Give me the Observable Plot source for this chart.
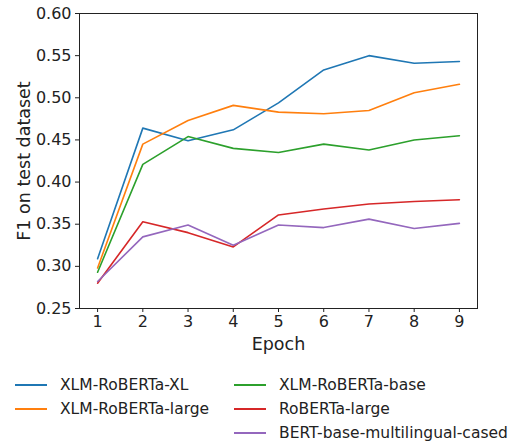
<!DOCTYPE html>
<html>
<head>
<meta charset="utf-8">
<script src="https://cdn.jsdelivr.net/npm/d3@7"></script>
<script src="https://cdn.jsdelivr.net/npm/@observablehq/plot@0.6"></script>
<style>
  body { margin: 0; background: #fff; font-family: "DejaVu Sans", sans-serif; }
  #wrap { position: relative; width: 511px; height: 443px; }
  .leg { position: absolute; font-size: 15.5px; color: #222; white-space: nowrap; display: flex; align-items: center; height: 20px; }
  .leg .sw { display: inline-block; width: 32px; height: 0; border-top: 2px solid; margin-right: 13px; }
</style>
</head>
<body>
<div id="wrap"></div>
<script>
const epochs = [1, 2, 3, 4, 5, 6, 7, 8, 9];
const seriesNames = ["XLM-RoBERTa-XL", "XLM-RoBERTa-large", "XLM-RoBERTa-base", "RoBERTa-large", "BERT-base-multilingual-cased"];
const colors = ["#1f77b4", "#ff7f0e", "#2ca02c", "#d62728", "#9467bd"];
const xlmXL    = [0.309, 0.464, 0.449, 0.462, 0.494, 0.533, 0.550, 0.541, 0.543];
const xlmLarge = [0.298, 0.445, 0.473, 0.491, 0.483, 0.481, 0.485, 0.506, 0.516];
const xlmBase  = [0.293, 0.421, 0.454, 0.440, 0.435, 0.445, 0.438, 0.450, 0.455];
const robLarge = [0.280, 0.353, 0.340, 0.323, 0.361, 0.368, 0.374, 0.377, 0.379];
const mbert    = [0.282, 0.335, 0.349, 0.325, 0.349, 0.346, 0.356, 0.345, 0.351];
const yTicks = [0.25, 0.30, 0.35, 0.40, 0.45, 0.50, 0.55, 0.60];

const allValues = [xlmXL, xlmLarge, xlmBase, robLarge, mbert];
const data = [];
allValues.forEach((vals, i) => vals.forEach((v, j) => data.push({epoch: epochs[j], f1: v, series: seriesNames[i]})));

const chart = Plot.plot({
  width: 511,
  height: 360,
  marginTop: 13,
  marginBottom: 52,
  marginLeft: 79,
  marginRight: 34,
  style: { fontFamily: "DejaVu Sans", fontSize: "16px", color: "#222", background: "#fff" },
  x: { domain: [0.6, 9.4], label: null },
  y: { domain: [0.25, 0.60], label: null },
  color: { domain: seriesNames, range: colors },
  marks: [
    Plot.axisX({ ticks: epochs, tickFormat: d => d, tickSize: 4, tickPadding: 3, fontSize: 16 }),
    Plot.axisY({ ticks: yTicks, tickFormat: d3.format(".2f"), tickSize: 4, tickPadding: 4, fontSize: 16 }),
    Plot.line(data, { x: "epoch", y: "f1", z: "series", stroke: "series", strokeWidth: 1.6 }),
    Plot.frame({ stroke: "#222", strokeWidth: 1 }),
    Plot.text(["Epoch"], { frameAnchor: "bottom", dy: 41, fontSize: 17.5, fill: "#222", textAnchor: "middle" }),
    Plot.text(["F1 on test dataset"], { frameAnchor: "left", dx: -55, rotate: -90, fontSize: 17.5, fill: "#222", textAnchor: "middle", lineAnchor: "middle" })
  ]
});
const wrap = document.getElementById("wrap");
wrap.appendChild(chart);

const legendPos = [[15, 375], [15, 399], [234, 375], [234, 399], [234, 423]];
seriesNames.forEach((name, i) => {
  const d = document.createElement("div");
  d.className = "leg";
  d.style.left = legendPos[i][0] + "px";
  d.style.top = legendPos[i][1] + "px";
  d.innerHTML = `<span class="sw" style="border-color:${colors[i]}"></span><span>${name}</span>`;
  wrap.appendChild(d);
});
</script>
</body>
</html>
